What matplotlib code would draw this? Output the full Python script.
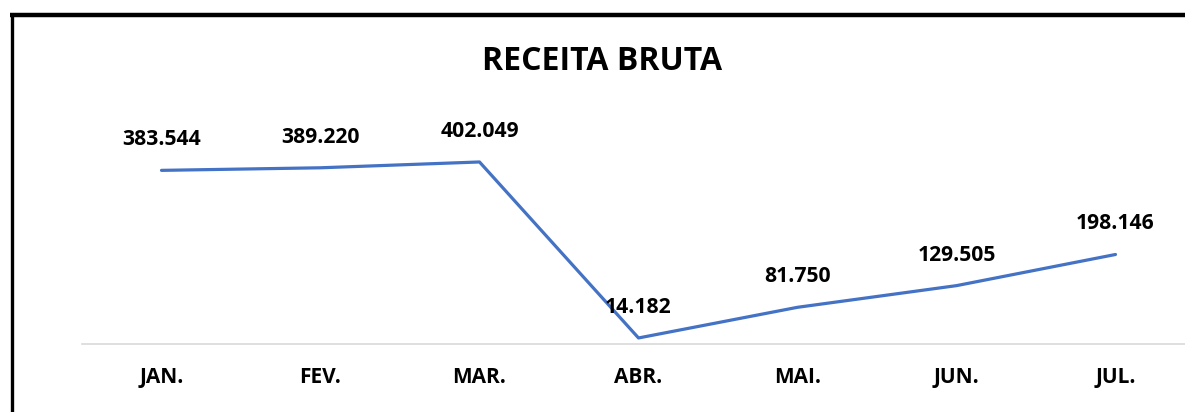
import matplotlib.pyplot as plt
from matplotlib.lines import Line2D

# values
months = ['JAN.', 'FEV.', 'MAR.', 'ABR.', 'MAI.', 'JUN.', 'JUL.']
receita = [383544, 389220, 402049, 14182, 81750, 129505, 198146]
title = 'RECEITA BRUTA'

W, H, DPI = 1185, 412, 100
plt.rcParams['font.family'] = ['Open Sans', 'DejaVu Sans']

fig = plt.figure(figsize=(W / DPI, H / DPI), dpi=DPI)

# axes placed in pixel terms (categories every ~159 px, baseline at y~344)
left, right = 82, 1195
bottom, top = 344.4, 100
ax = fig.add_axes([left / W, (H - bottom) / H, (right - left) / W, (bottom - top) / H])
ax.set_xlim(-0.5, len(months) - 0.5)
ax.set_ylim(0, (bottom - top) * 2203.8)

x = list(range(len(months)))
ax.plot(x, receita, color='#4472C4', lw=2.3, solid_capstyle='round', clip_on=False)

for xi, v in zip(x, receita):
    lbl = f'{v:,}'.replace(',', '.')
    ax.annotate(lbl, (xi, v), xytext=(0, 22), textcoords='offset points',
                ha='center', va='center', fontsize=15.2, fontweight='bold',
                color='black', annotation_clip=False)

for s in ['top', 'right', 'left']:
    ax.spines[s].set_visible(False)
ax.spines['bottom'].set_color('#D9D9D9')
ax.spines['bottom'].set_linewidth(1.2)
ax.set_yticks([])
ax.set_xticks(x)
ax.set_xticklabels(months, fontsize=15, fontweight='bold')
ax.tick_params(axis='x', length=0, pad=16.5)

fig.text(602 / W, 1 - 61.5 / H, title, ha='center', va='center',
         fontsize=23, fontweight='bold', color='black')

# black frame pieces visible on top and left
fig.add_artist(Line2D([10 / W, 1.0], [1 - 14.5 / H, 1 - 14.5 / H], color='black', lw=3.2,
                      transform=fig.transFigure, solid_capstyle='butt'))
fig.add_artist(Line2D([11.5 / W, 11.5 / W], [0, 1 - 13 / H], color='black', lw=2.4,
                      transform=fig.transFigure, solid_capstyle='butt'))

fig.savefig('out.png', dpi=DPI)
